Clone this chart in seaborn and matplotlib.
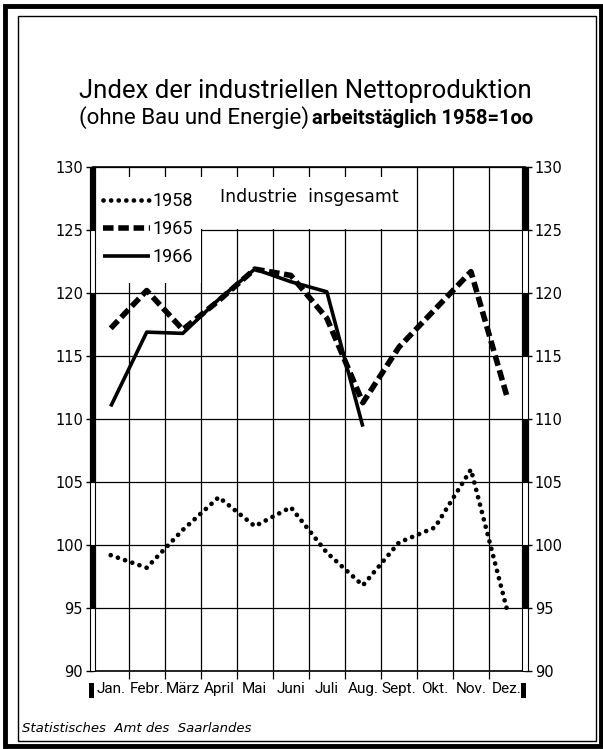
import numpy as np
import pandas as pd
import seaborn as sns
import matplotlib.pyplot as plt
import matplotlib.transforms as mtransforms
from matplotlib.patches import Rectangle

# values (index, 1958 = 100)
monate = ['Jan.', 'Febr.', 'März', 'April', 'Mai', 'Juni',
          'Juli', 'Aug.', 'Sept.', 'Okt.', 'Nov.', 'Dez.']
index_1958 = [99.2, 98.2, 101.2, 103.8, 101.5, 103.0, 99.4, 96.8, 100.2, 101.4, 106.0, 94.9]
index_1965 = [117.2, 120.2, 117.1, 119.4, 121.9, 121.4, 118.0, 111.3, 115.7, 118.7, 121.7, 111.8]
index_1966 = [111.0, 116.9, 116.8, 119.5, 121.9, 120.9, 120.1, 109.4]
y_ticks = [90, 95, 100, 105, 110, 115, 120, 125, 130]

rows = []
for jahr, werte in [('1958', index_1958), ('1965', index_1965), ('1966', index_1966)]:
    for i, w in enumerate(werte):
        rows.append({'jahr': jahr, 'pos': i, 'monat': monate[i], 'index': w})
df = pd.DataFrame(rows)

sns.set_theme(style='white')
plt.rcParams['font.family'] = ['DejaVu Sans']
narrow = ['Roboto', 'DejaVu Sans']

fig = plt.figure(figsize=(6.03, 7.49), dpi=100)
ax = fig.add_axes([0.1537, 0.104, 0.7169, 0.673])

# the three series
styles = {
    '1958': dict(lw=3.4, linestyle=(0, (0.01, 1.6)), dash_capstyle='round'),
    '1965': dict(lw=4.0, linestyle=(0, (1.9, 0.85)), dash_capstyle='butt'),
    '1966': dict(lw=2.6, linestyle='-', solid_capstyle='butt'),
}
for jahr, st in styles.items():
    sns.lineplot(data=df[df['jahr'] == jahr], x='pos', y='index', ax=ax,
                 color='black', label=jahr, zorder=3, **st)

ax.set_xlim(-0.5, 11.5)
ax.set_ylim(90, 130)
ax.set_xlabel('')
ax.set_ylabel('')

# grid: horizontal at every 5, vertical at month boundaries
ax.set_yticks(y_ticks)
ax.set_yticklabels([str(v) for v in y_ticks], family='DejaVu Sans', fontsize=10.5)
ax.set_xticks(range(12))
ax.set_xticklabels(monate, family=narrow, fontsize=11)
ax.set_xticks(np.arange(0.5, 11, 1), minor=True)
ax.set_axisbelow(True)
ax.grid(which='minor', axis='x', color='black', lw=0.9)
ax.grid(which='major', axis='y', color='black', lw=0.9)
ax.grid(which='major', axis='x', visible=False)

ax.tick_params(axis='x', which='major', length=0, pad=8, colors='black')
ax.tick_params(axis='x', which='minor', bottom=True, length=6, width=0.9,
               direction='out', color='black')
ax.tick_params(axis='y', which='major', left=True, right=True, labelleft=True,
               labelright=True, length=5, width=1, direction='out',
               colors='black', pad=2)
for lab in ax.get_yticklabels(which='major'):
    lab.set_fontfamily('DejaVu Sans')

for s in ['left', 'right']:
    ax.spines[s].set_visible(False)
for s in ['top', 'bottom']:
    ax.spines[s].set_color('black')
    ax.spines[s].set_linewidth(1.2)

# white areas for the legend and the caption
ax.add_patch(Rectangle((-0.5, 120.8), 3.0, 8.4, facecolor='white', edgecolor='none', zorder=1))
ax.add_patch(Rectangle((2.52, 125.05), 5.96, 4.15, facecolor='white', edgecolor='none', zorder=1))
ax.text(5.5, 127.6, 'Industrie  insgesamt', ha='center', va='center',
        fontsize=12.5, color='black', zorder=4)

leg = ax.legend(loc='upper left', bbox_to_anchor=(0.024, 0.95), frameon=False,
                borderpad=0, borderaxespad=0, handlelength=2.6, handletextpad=0.15,
                labelspacing=0.55, prop={'family': narrow, 'size': 13})
for t in leg.get_texts():
    t.set_color('black')

# striped side bars instead of plain spines
trans = mtransforms.blended_transform_factory(ax.transAxes, ax.transData)
bar_w = 0.012
left_black = [(125, 130), (105, 120), (95, 100)]
right_black = [(125, 130), (115, 120), (105, 110), (95, 100)]
for x0, blacks in [(-bar_w / 2, left_black), (1 - bar_w / 2, right_black)]:
    ax.add_patch(Rectangle((x0, 90), bar_w, 40, transform=trans, facecolor='white',
                           edgecolor='black', lw=0.8, clip_on=False, zorder=5))
    for lo, hi in blacks:
        ax.add_patch(Rectangle((x0, lo), bar_w, hi - lo, transform=trans,
                               facecolor='black', edgecolor='black', lw=0.8,
                               clip_on=False, zorder=5))
    ax.add_patch(Rectangle((x0 - 0.003, 87.9), bar_w, 1.15, transform=trans,
                           facecolor='black', edgecolor='none', clip_on=False, zorder=5))

# titles
fig.text(0.507, 0.869, 'Jndex der industriellen Nettoproduktion', ha='center',
         va='baseline', family=narrow, fontsize=18.5, color='black')
fig.text(0.513, 0.8345, '(ohne Bau und Energie)', ha='right', va='baseline',
         family=narrow, fontsize=16, color='black')
fig.text(0.518, 0.8345, 'arbeitstäglich 1958=1oo', ha='left', va='baseline',
         family=narrow, fontsize=14.5, fontweight='bold', color='black')

fig.text(0.036, 0.023, 'Statistisches  Amt des  Saarlandes', ha='left', va='baseline',
         fontsize=9.5, style='italic', color='black')

# frame around the sheet
fig.add_artist(Rectangle((0.008, 0.004), 0.989, 0.988, transform=fig.transFigure,
                         fill=False, edgecolor='black', lw=3.5))
fig.add_artist(Rectangle((0.03, 0.011), 0.958, 0.968, transform=fig.transFigure,
                         fill=False, edgecolor='black', lw=1.0))

fig.savefig('out.png', dpi=100)
